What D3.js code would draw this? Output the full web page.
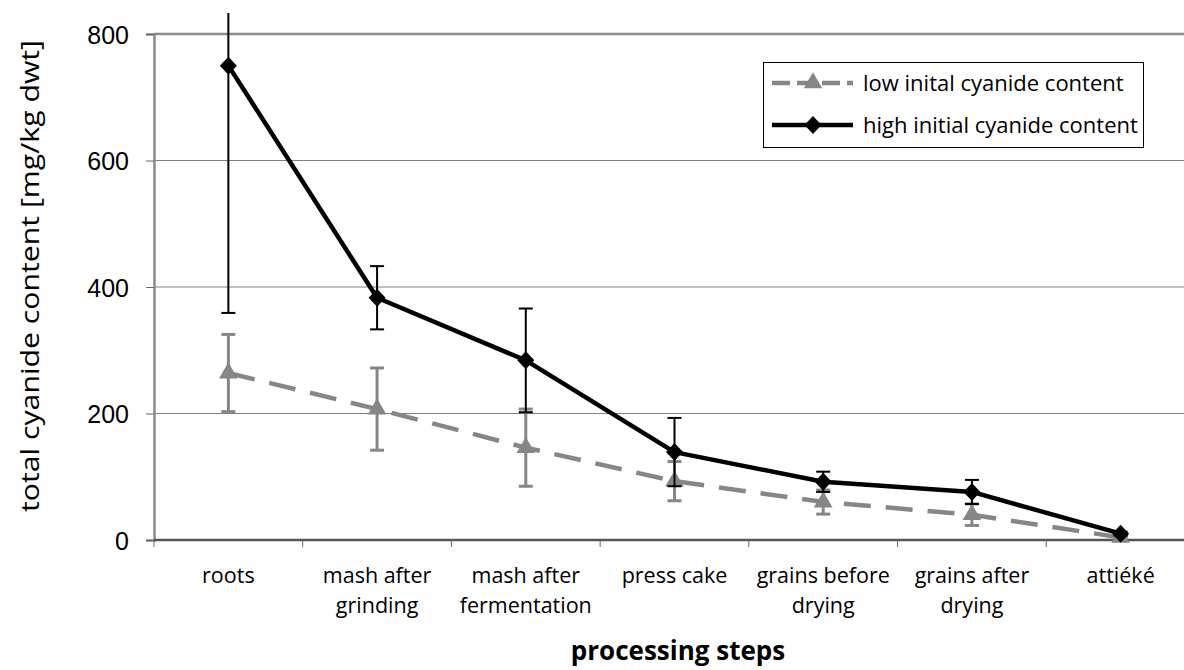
<!DOCTYPE html>
<html>
<head>
<meta charset="utf-8">
<script src="https://cdn.jsdelivr.net/npm/d3@7"></script>
<style>
  html, body { margin: 0; padding: 0; background: #fff; }
  svg { display: block; }
  text { font-family: "Open Sans", "Noto Sans", sans-serif; fill: #000; }
</style>
</head>
<body>
<svg id="chart" width="1184" height="670"></svg>
<script>
// Processing steps (line breaks marked with \n)
const categories = [
  "roots",
  "mash after\ngrinding",
  "mash after\nfermentation",
  "press cake",
  "grains before\ndrying",
  "grains after\ndrying",
  "attiéké"
];

// Total cyanide content, mg/kg dry weight, with standard deviations
const lowMean  = [264, 207, 146, 93, 60, 40, 4];
const lowErr   = [61, 65, 61, 31, 19, 17, 2];
const highMean = [750, 383, 284, 139, 92, 76, 10];
const highErr  = [391, 50, 82, 54, 16, 19, 3];

const yTicks = [0, 200, 400, 600, 800];
const seriesNames = ["low inital cyanide content", "high initial cyanide content"];

const svg = d3.select("#chart");
const W = 1184, H = 670;
const plot = { left: 154, right: 1195, top: 34, bottom: 540 };

const x = d3.scaleBand().domain(categories).range([plot.left, plot.right]).padding(0);
const cx = c => x(c) + x.bandwidth() / 2;
const y = d3.scaleLinear().domain([0, 800]).range([plot.bottom, plot.top]);

// clip for error bars that run past the top of the frame
svg.append("defs").append("clipPath").attr("id", "errClip")
  .append("rect").attr("x", 0).attr("y", 13).attr("width", W).attr("height", H);

// horizontal gridlines
svg.append("g").selectAll("line")
  .data(yTicks.filter(t => t > 0 && t < 800))
  .join("line")
  .attr("x1", plot.left).attr("x2", W)
  .attr("y1", d => y(d)).attr("y2", d => y(d))
  .attr("stroke", "#808080").attr("stroke-width", 1);

// top frame line at 800
svg.append("line")
  .attr("x1", plot.left).attr("x2", W)
  .attr("y1", y(800)).attr("y2", y(800))
  .attr("stroke", "#8c8c8c").attr("stroke-width", 2.5);

// y axis
const yAxis = d3.axisLeft(y).tickValues(yTicks).tickSize(8).tickPadding(17)
  .tickFormat(d3.format("d"));
const gy = svg.append("g").attr("transform", `translate(${plot.left},0)`).call(yAxis);
gy.select(".domain").attr("stroke", "#8c8c8c").attr("stroke-width", 2.5);
gy.selectAll(".tick line").attr("stroke", "#666").attr("stroke-width", 1);
gy.selectAll(".tick text")
  .style("font-family", "'Liberation Sans', Arial, sans-serif")
  .style("font-size", "25px").attr("fill", "#000").attr("dy", "0.36em");

// x axis with ticks at category boundaries
const gx = svg.append("g").attr("transform", `translate(0,${plot.bottom})`);
gx.append("line").attr("x1", plot.left).attr("x2", W).attr("y1", 0).attr("y2", 0)
  .attr("stroke", "#555").attr("stroke-width", 2.5);
gx.selectAll("line.tk").data(categories).join("line").attr("class", "tk")
  .attr("x1", d => x(d)).attr("x2", d => x(d))
  .attr("y1", 0).attr("y2", 7).attr("stroke", "#666").attr("stroke-width", 1);
gx.selectAll("text.cat").data(categories).join("text").attr("class", "cat")
  .attr("text-anchor", "middle")
  .style("font-size", "21.5px")
  .each(function (d) {
    const t = d3.select(this);
    d.split("\n").forEach((line, i) => {
      t.append("tspan").attr("x", cx(d)).attr("y", 43 + i * 30).text(line);
    });
  });

// axis titles
svg.append("text")
  .attr("x", 678).attr("y", 660).attr("text-anchor", "middle")
  .style("font-size", "26px").style("font-weight", "bold")
  .text("processing steps");
svg.append("text")
  .attr("transform", "translate(39,276) rotate(-90)")
  .attr("text-anchor", "middle")
  .style("font-size", "26px")
  .attr("textLength", 472).attr("lengthAdjust", "spacingAndGlyphs")
  .text("total cyanide content [mg/kg dwt]");

const lowData = categories.map((c, i) => ({ c, v: lowMean[i], e: lowErr[i] }));
const highData = categories.map((c, i) => ({ c, v: highMean[i], e: highErr[i] }));

const line = d3.line().x(d => cx(d.c)).y(d => y(d.v));

function errorBars(data, color, width, cap) {
  const g = svg.append("g").attr("clip-path", "url(#errClip)")
    .attr("stroke", color).attr("stroke-width", width);
  g.selectAll("line.v").data(data).join("line").attr("class", "v")
    .attr("x1", d => cx(d.c)).attr("x2", d => cx(d.c))
    .attr("y1", d => y(d.v + d.e)).attr("y2", d => y(d.v - d.e));
  g.selectAll("line.hi").data(data).join("line").attr("class", "hi")
    .attr("x1", d => cx(d.c) - cap).attr("x2", d => cx(d.c) + cap)
    .attr("y1", d => y(d.v + d.e)).attr("y2", d => y(d.v + d.e));
  g.selectAll("line.lo").data(data).join("line").attr("class", "lo")
    .attr("x1", d => cx(d.c) - cap).attr("x2", d => cx(d.c) + cap)
    .attr("y1", d => y(d.v - d.e)).attr("y2", d => y(d.v - d.e));
}

const gray = "#868686";
const triangle = d3.symbol().type(d3.symbolTriangle).size(150);
const diamond = "M0,-9L8.5,0L0,9L-8.5,0Z";

// low series
errorBars(lowData, gray, 3, 7);
svg.append("path").datum(lowData).attr("d", line)
  .attr("fill", "none").attr("stroke", gray).attr("stroke-width", 4.5)
  .attr("stroke-dasharray", "27,15");
svg.append("g").selectAll("path").data(lowData).join("path")
  .attr("d", triangle).attr("fill", gray)
  .attr("transform", d => `translate(${cx(d.c)},${y(d.v)})`);

// high series
errorBars(highData, "#000", 2, 7);
svg.append("path").datum(highData).attr("d", line)
  .attr("fill", "none").attr("stroke", "#000").attr("stroke-width", 4.5)
  .attr("stroke-linejoin", "round");
svg.append("g").selectAll("path").data(highData).join("path")
  .attr("d", diamond).attr("fill", "#000")
  .attr("transform", d => `translate(${cx(d.c)},${y(d.v)})`);

// legend
const lg = svg.append("g");
lg.append("rect").attr("x", 763.5).attr("y", 62.5).attr("width", 380).attr("height", 85)
  .attr("fill", "#fff").attr("stroke", "#000").attr("stroke-width", 1);
const rows = [
  { name: seriesNames[0], color: gray, dash: "18,7", mark: triangle(), yy: 83 },
  { name: seriesNames[1], color: "#000", dash: null, mark: diamond, yy: 125 }
];
rows.forEach(r => {
  lg.append("line").attr("x1", 772).attr("x2", 853).attr("y1", r.yy).attr("y2", r.yy)
    .attr("stroke", r.color).attr("stroke-width", 4.5)
    .attr("stroke-dasharray", r.dash);
  lg.append("path").attr("d", r.mark).attr("fill", r.color)
    .attr("transform", `translate(813,${r.yy})`);
  lg.append("text").attr("x", 863).attr("y", r.yy).attr("dy", "0.35em")
    .style("font-size", "22px").text(r.name);
});
</script>
</body>
</html>
